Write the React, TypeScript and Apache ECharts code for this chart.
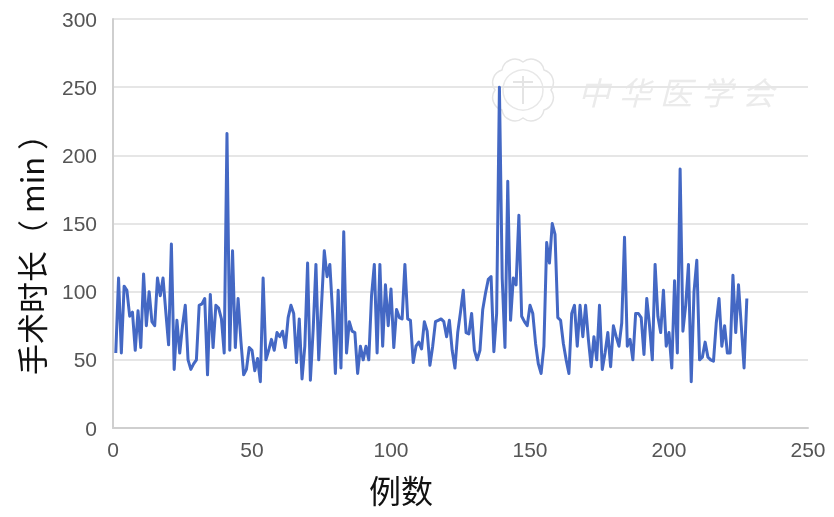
import React, { useEffect, useRef } from "react";
import * as echarts from "echarts";

// surgery duration (min) for case 1..228
const durations = [
  55, 110, 55, 104, 101, 82, 85, 57, 86, 59,
  113, 75, 100, 78, 75, 110, 97, 110, 85, 61,
  135, 43, 79, 55, 75, 90, 50, 43, 47, 50,
  90, 91, 95, 39, 98, 59, 90, 88, 80, 55,
  216, 57, 130, 59, 95, 64, 39, 43, 59, 57,
  42, 51, 34, 110, 50, 57, 65, 57, 70, 67,
  71, 59, 81, 90, 84, 48, 80, 36, 60, 121,
  35, 72, 120, 50, 90, 130, 111, 120, 84, 40,
  101, 44, 144, 55, 78, 71, 70, 40, 60, 50,
  60, 50, 97, 120, 55, 120, 60, 105, 75, 102,
  59, 87, 81, 80, 120, 80, 79, 48, 60, 63,
  58, 78, 71, 46, 60, 78, 79, 80, 78, 67,
  79, 57, 44, 70, 85, 101, 70, 69, 84, 57,
  50, 57, 87, 99, 109, 111, 56, 84, 250, 110,
  59, 181, 79, 110, 105, 156, 82, 78, 75, 90,
  84, 62, 47, 40, 60, 136, 121, 150, 142, 81,
  79, 62, 50, 40, 84, 90, 60, 90, 67, 90,
  65, 45, 67, 50, 90, 43, 55, 70, 45, 75,
  67, 60, 77, 140, 60, 65, 50, 84, 84, 81,
  54, 95, 75, 50, 120, 82, 70, 101, 60, 70,
  44, 108, 55, 190, 71, 90, 120, 34, 100, 123,
  50, 52, 63, 52, 50, 49, 77, 95, 60, 75,
  55, 55, 112, 70, 105, 75, 44, 95,
];
const axisFont = "'Liberation Sans', sans-serif";
const yTitle = "手术时长（ min ）";
const xTitle = "例数";
const watermark = ["中", "华", "医", "学", "会"];

// scalloped outline of the seal, in its own 60x60 box
echarts.graphic.registerShape(
  "sealOutline",
  echarts.graphic.extendPath(
    "M30 2 A13 13 0 0 1 51 10 A13 13 0 0 1 58 30 A13 13 0 0 1 51 50 A13 13 0 0 1 30 58 A13 13 0 0 1 9 50 A13 13 0 0 1 2 30 A13 13 0 0 1 9 10 A13 13 0 0 1 30 2 Z",
    {}
  )
);

export default function App() {
  const ref = useRef<HTMLDivElement>(null);
  useEffect(() => {
    const chart = echarts.init(ref.current!, undefined, { renderer: "svg" });
    chart.setOption({
      animation: false,
      backgroundColor: "#ffffff",
      grid: { left: 113, right: 26, top: 19, bottom: 89 },
      xAxis: {
        type: "value",
        min: 0,
        max: 250,
        interval: 50,
        axisLine: { show: true, lineStyle: { color: "#cfcfcf", width: 2 } },
        axisTick: { show: false },
        splitLine: { show: false },
        axisLabel: { color: "#555", fontSize: 21, fontFamily: axisFont, margin: 11 },
      },
      yAxis: {
        type: "value",
        min: 0,
        max: 300,
        interval: 50,
        axisLine: { show: true, lineStyle: { color: "#cfcfcf", width: 2 } },
        axisTick: { show: false },
        splitLine: { show: true, lineStyle: { color: "#e6e6e6", width: 2 } },
        axisLabel: { color: "#555", fontSize: 21, fontFamily: axisFont, margin: 16 },
      },
      graphic: [
        {
          type: "group",
          z: 0,
          silent: true,
          children: [
            { type: "sealOutline", x: 493, y: 60, style: { fill: "none", stroke: "#e4e4e4", lineWidth: 1.5 } },
            { type: "circle", shape: { cx: 523, cy: 90, r: 20 }, style: { fill: "none", stroke: "#e8e8e8", lineWidth: 1.5 } },
            { type: "line", shape: { x1: 523, y1: 76, x2: 523, y2: 104 }, style: { stroke: "#e4e4e4", lineWidth: 2 } },
            { type: "line", shape: { x1: 513, y1: 82, x2: 533, y2: 82 }, style: { stroke: "#e4e4e4", lineWidth: 2 } },
            ...watermark.map((ch, i) => ({
              type: "text",
              x: 578 + i * 41,
              y: 75,
              style: {
                text: ch,
                font: "italic 32px 'Noto Sans CJK SC'",
                fill: "#ebebeb",
              },
            })),
          ],
        },
        {
          type: "text",
          x: 30,
          y: 247,
          rotation: Math.PI / 2,
          originX: 0,
          originY: 0,
          style: {
            text: yTitle,
            font: "31px 'Noto Sans CJK SC'",
            fill: "#111",
            align: "center",
            verticalAlign: "middle",
          },
        },
        {
          type: "text",
          x: 401,
          y: 489,
          style: {
            text: xTitle,
            font: "32px 'Noto Sans CJK SC'",
            fill: "#111",
            align: "center",
            verticalAlign: "middle",
          },
        },
      ],
      series: [
        {
          type: "line",
          data: durations.map((v, i) => [i + 1, v]),
          showSymbol: false,
          symbol: "none",
          smooth: false,
          lineStyle: { color: "#4468c4", width: 3, join: "round" },
        },
      ],
    });
    return () => chart.dispose();
  }, []);
  return (
    <div
      ref={ref}
      style={{ position: "fixed", left: 0, top: 0, width: 834, height: 517, filter: "blur(0.5px)" }}
    />
  );
}
